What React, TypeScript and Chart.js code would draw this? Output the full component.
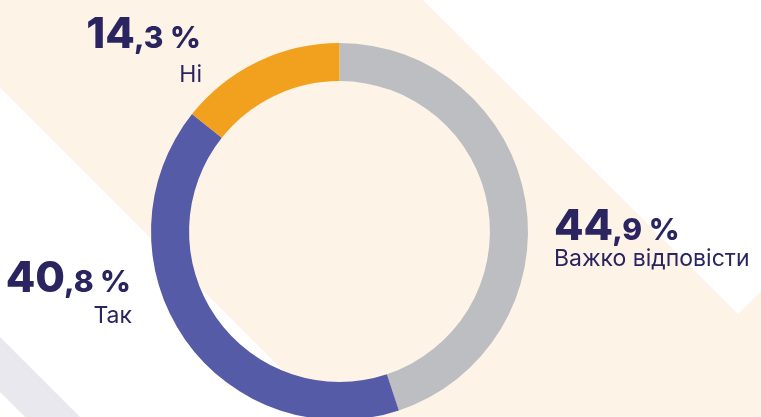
import React, { useEffect, useRef } from "react";
import { Chart, registerables } from "chart.js";

Chart.register(...registerables);

const categories = ["Важко відповісти", "Так", "Ні"];
const values = [44.9, 40.8, 14.3];
const intParts = ["44", "40", "14"];
const fracParts = [",9 %", ",8 %", ",3 %"];
const colors = ["#bdbec2", "#565ba8", "#f2a11f"];

const W = 761;
const H = 463;
const TEXT = "#2a2561";
const BEIGE = "#fdf4e7";
const GREYBAND = "#e9e8ee";

// label anchor: [x, baseline of value, baseline of label, align]
const labelPos: [number, number, number, "left" | "right"][] = [
  [554, 240, 266, "left"],
  [132, 292, 323, "right"],
  [202, 48, 82, "right"],
];

const bgPlugin = {
  id: "bg",
  beforeDraw(chart: any) {
    const ctx = chart.ctx as CanvasRenderingContext2D;
    ctx.save();
    ctx.fillStyle = "#ffffff";
    ctx.fillRect(0, 0, W, H);
    ctx.fillStyle = BEIGE;
    ctx.beginPath();
    ctx.moveTo(0, 0);
    ctx.lineTo(423, 0);
    ctx.lineTo(738, 314);
    ctx.lineTo(761, 291);
    ctx.lineTo(761, H);
    ctx.lineTo(H - 87.5, H);
    ctx.lineTo(0, 87.5);
    ctx.closePath();
    ctx.fill();
    ctx.fillStyle = GREYBAND;
    ctx.beginPath();
    ctx.moveTo(0, 337);
    ctx.lineTo(H - 337, H);
    ctx.lineTo(H - 392, H);
    ctx.lineTo(0, 392);
    ctx.closePath();
    ctx.fill();
    ctx.restore();
  },
};

const textPlugin = {
  id: "texts",
  afterDraw(chart: any) {
    const ctx = chart.ctx as CanvasRenderingContext2D;
    ctx.save();
    ctx.fillStyle = TEXT;
    ctx.textBaseline = "alphabetic";
    categories.forEach((cat, i) => {
      const [x, yv, yl, align] = labelPos[i];
      const bigFont = "800 43px Inter";
      const smallFont = "800 30px Inter";
      ctx.font = bigFont;
      const wBig = ctx.measureText(intParts[i]).width;
      ctx.font = smallFont;
      const wSmall = ctx.measureText(fracParts[i]).width;
      const startX = align === "left" ? x : x - wBig - wSmall;
      ctx.textAlign = "left";
      ctx.font = bigFont;
      ctx.fillText(intParts[i], startX, yv);
      ctx.font = smallFont;
      ctx.fillText(fracParts[i], startX + wBig - 1, yv);
      ctx.font = "400 23px Inter";
      ctx.textAlign = align;
      ctx.fillText(cat, x, yl);
    });
    ctx.restore();
  },
};

export default function App() {
  const ref = useRef<HTMLCanvasElement | null>(null);
  useEffect(() => {
    document.body.style.margin = "0";
    document.body.style.overflow = "hidden";
    if (!ref.current) return;
    const chart = new Chart(ref.current, {
      type: "doughnut",
      data: {
        labels: categories,
        datasets: [
          {
            data: values,
            backgroundColor: colors,
            borderWidth: 0,
          },
        ],
      },
      options: {
        responsive: false,
        animation: false,
        devicePixelRatio: 1,
        events: [],
        cutout: "79.8%",
        layout: { padding: { left: 151, right: 233, top: 43, bottom: 43 } },
        plugins: {
          legend: { display: false },
          tooltip: { enabled: false },
        },
      },
      plugins: [bgPlugin, textPlugin],
    });
    return () => chart.destroy();
  }, []);
  return (
    <div style={{ position: "relative", width: W, height: 417, overflow: "hidden" }}>
      <canvas ref={ref} width={W} height={H} style={{ display: "block" }} />
    </div>
  );
}
